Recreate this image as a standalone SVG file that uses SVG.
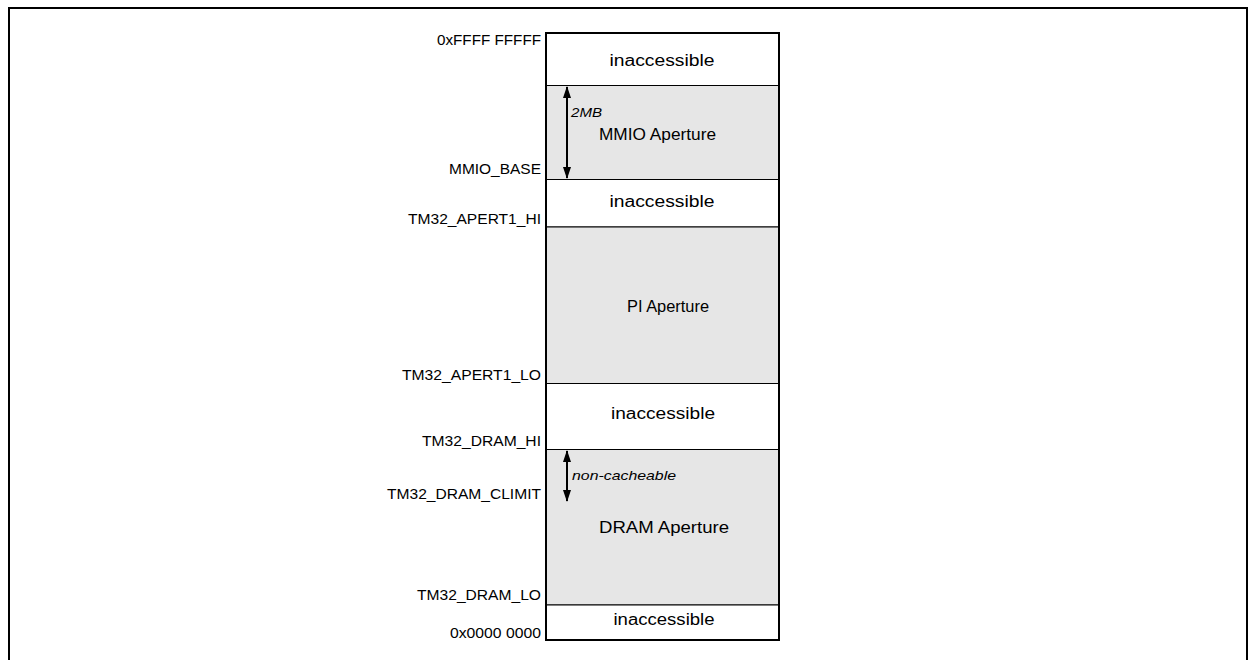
<svg xmlns="http://www.w3.org/2000/svg" width="1252" height="660" viewBox="0 0 1252 660">
<style>
.frame{fill:none;stroke:#000;stroke-width:2}
.white{fill:#fff;stroke:#000;stroke-width:1}
.gray{fill:#e6e6e6;stroke:#000;stroke-width:1}
.lbl{font-family:"Liberation Sans",Arial,sans-serif;font-size:15px;fill:#000;text-anchor:end}
.cl{font-family:"Liberation Sans",Arial,sans-serif;font-size:16px;fill:#000;text-anchor:middle}
.it{font-family:"Liberation Sans",Arial,sans-serif;font-size:13px;font-style:italic;fill:#000}
.arr{stroke:#000;stroke-width:2;fill:none;marker-start:url(#ah);marker-end:url(#ah)}
</style>
<defs>
<marker id="ah" viewBox="0 0 12 8" refX="11" refY="4" markerWidth="12" markerHeight="8" markerUnits="userSpaceOnUse" orient="auto-start-reverse">
<path d="M0,0 L12,4 L0,8 Z" fill="#000"/>
</marker>
</defs>
<rect width="1252" height="660" fill="#fff"/>
<path class="frame" d="M9,662 V8 H1247 V662"/>

<g id="region-top-inaccessible">
<rect class="white" x="546" y="33" width="233" height="52.5"/>
<text class="cl" x="662" y="66" textLength="105" lengthAdjust="spacingAndGlyphs">inaccessible</text>
</g>
<g id="region-mmio">
<rect class="gray" x="546" y="85.5" width="233" height="94"/>
<text class="cl" x="657.5" y="140" textLength="117" lengthAdjust="spacingAndGlyphs">MMIO Aperture</text>
<text class="it" x="571" y="117" textLength="31" lengthAdjust="spacingAndGlyphs">2MB</text>
</g>
<g id="region-inaccessible-2">
<rect class="white" x="546" y="179.5" width="233" height="47.5"/>
<text class="cl" x="662" y="207" textLength="105" lengthAdjust="spacingAndGlyphs">inaccessible</text>
</g>
<g id="region-pi">
<rect class="gray" x="546" y="227" width="233" height="156.5"/>
<text class="cl" x="668" y="312" textLength="82" lengthAdjust="spacingAndGlyphs">PI Aperture</text>
</g>
<g id="region-inaccessible-3">
<rect class="white" x="546" y="383.5" width="233" height="66"/>
<text class="cl" x="663" y="419" textLength="104" lengthAdjust="spacingAndGlyphs">inaccessible</text>
</g>
<g id="region-dram">
<rect class="gray" x="546" y="449.5" width="233" height="155.5"/>
<text class="cl" x="664" y="533" textLength="130" lengthAdjust="spacingAndGlyphs">DRAM Aperture</text>
<text class="it" x="572" y="480" textLength="104" lengthAdjust="spacingAndGlyphs">non-cacheable</text>
</g>
<g id="region-bottom-inaccessible">
<rect class="white" x="546" y="605" width="233" height="35"/>
<text class="cl" x="664" y="625" textLength="101" lengthAdjust="spacingAndGlyphs">inaccessible</text>
</g>
<rect id="outline" x="546" y="33" width="233" height="607" fill="none" stroke="#000" stroke-width="2"/>

<g id="address-labels">
<text class="lbl" x="541" y="45" textLength="104" lengthAdjust="spacingAndGlyphs">0xFFFF FFFFF</text>
<text class="lbl" x="541" y="174" textLength="92" lengthAdjust="spacingAndGlyphs">MMIO_BASE</text>
<text class="lbl" x="541" y="224" textLength="133" lengthAdjust="spacingAndGlyphs">TM32_APERT1_HI</text>
<text class="lbl" x="541" y="380" textLength="139" lengthAdjust="spacingAndGlyphs">TM32_APERT1_LO</text>
<text class="lbl" x="541" y="446" textLength="119" lengthAdjust="spacingAndGlyphs">TM32_DRAM_HI</text>
<text class="lbl" x="541" y="499" textLength="154" lengthAdjust="spacingAndGlyphs">TM32_DRAM_CLIMIT</text>
<text class="lbl" x="541" y="600" textLength="124" lengthAdjust="spacingAndGlyphs">TM32_DRAM_LO</text>
<text class="lbl" x="541" y="638" textLength="91" lengthAdjust="spacingAndGlyphs">0x0000 0000</text>
</g>

<g id="connectors">
<line class="arr" x1="567" y1="87" x2="567" y2="178"/>
<line class="arr" x1="567" y1="451" x2="567" y2="501"/>
</g>
</svg>
